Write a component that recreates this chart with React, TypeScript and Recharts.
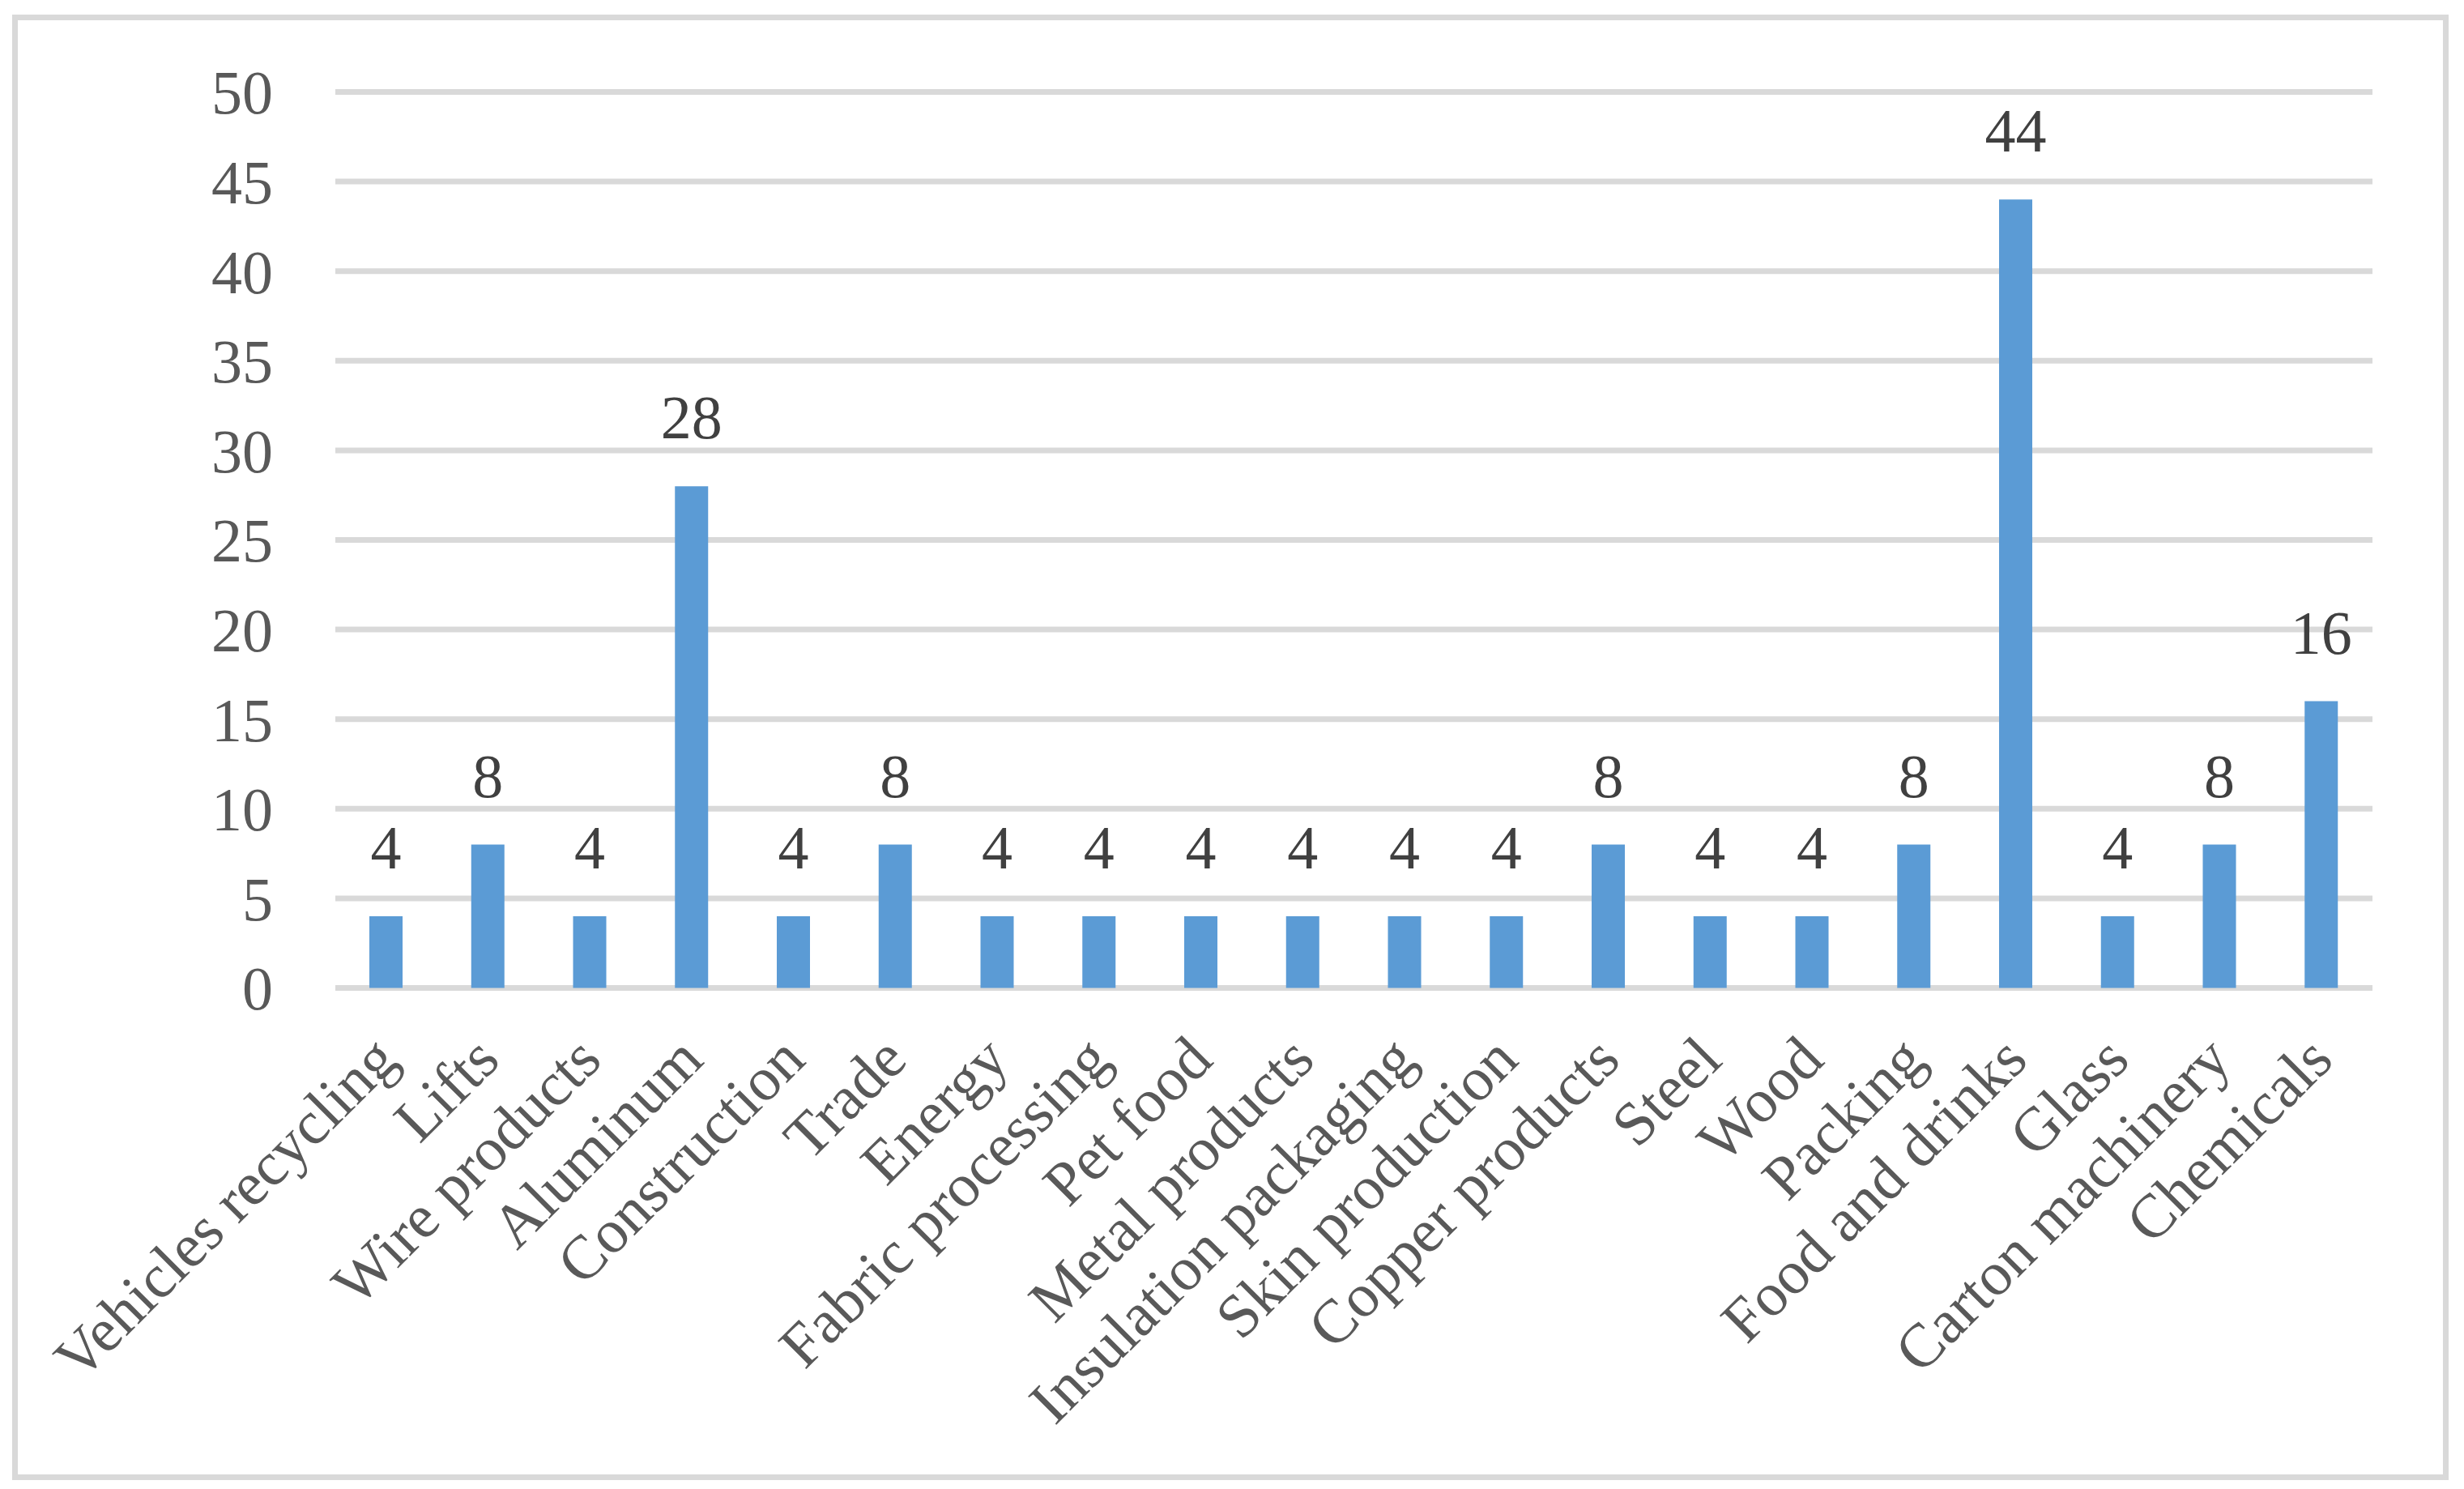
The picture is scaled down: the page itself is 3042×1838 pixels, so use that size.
import React from 'react';
import { BarChart, Bar, XAxis, YAxis, CartesianGrid, LabelList } from 'recharts';

// Categories and values
const sectors = [
  'Vehicles recycling',
  'Lifts',
  'Wire products',
  'Aluminum',
  'Construction',
  'Trade',
  'Energy',
  'Fabric processing',
  'Pet food',
  'Metal products',
  'Insulation packaging',
  'Skin production',
  'Copper products',
  'Steel',
  'Wood',
  'Packing',
  'Food and drinks',
  'Glass',
  'Carton machinery',
  'Chemicals',
];

const counts = [4, 8, 4, 28, 4, 8, 4, 4, 4, 4, 4, 4, 8, 4, 4, 8, 44, 4, 8, 16];

const yTicks = [0, 5, 10, 15, 20, 25, 30, 35, 40, 45, 50];

const data = sectors.map((sector, i) => ({ sector, count: counts[i] }));

const FONT = '"Liberation Serif", "DejaVu Serif", serif';

// Rotated category label, text ends just below the bar
const SectorTick = (props: any) => {
  const { x, y, payload } = props;
  return (
    <text
      transform={`translate(${x + 17},${y + 90}) rotate(-45)`}
      textAnchor="end"
      fontFamily={FONT}
      fontSize={76}
      fill="#595959"
    >
      {payload.value}
    </text>
  );
};

const App: React.FC = () => {
  return (
    <div style={{ position: 'absolute', left: 0, top: 0, width: 3042, height: 1838, background: '#fff' }}>
      <div
        style={{
          position: 'absolute',
          left: 15,
          top: 18,
          width: 3008,
          height: 1809,
          boxSizing: 'border-box',
          border: '7px solid #d9d9d9',
        }}
      />
      <div style={{ position: 'absolute', left: 0, top: 0 }}>
        <BarChart
          width={3042}
          height={1838}
          data={data}
          margin={{ top: 113.5, right: 113, bottom: 518.5, left: 0 }}
        >
          <CartesianGrid vertical={false} stroke="#d9d9d9" strokeWidth={7} />
          <XAxis
            dataKey="sector"
            interval={0}
            height={100}
            axisLine={false}
            tickLine={false}
            tickSize={0}
            tick={<SectorTick />}
          />
          <YAxis
            width={414}
            domain={[0, 50]}
            ticks={yTicks}
            axisLine={false}
            tickLine={false}
            tickSize={0}
            tickMargin={77}
            tick={{ fontFamily: FONT, fontSize: 76, fill: '#595959' }}
          />
          <Bar dataKey="count" fill="#5B9BD5" barSize={41} isAnimationActive={false}>
            <LabelList
              dataKey="count"
              position="top"
              offset={59}
              fontFamily={FONT}
              fontSize={76}
              fill="#404040"
            />
          </Bar>
        </BarChart>
      </div>
    </div>
  );
};

export default App;
